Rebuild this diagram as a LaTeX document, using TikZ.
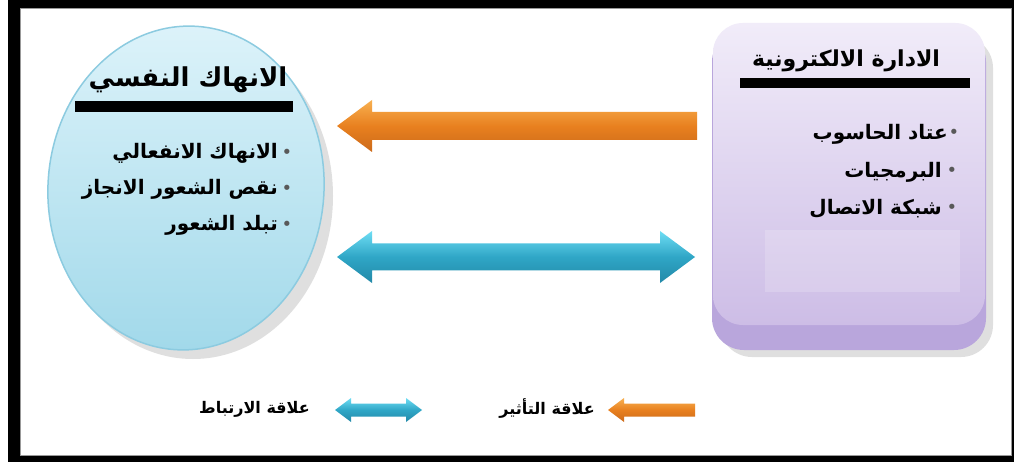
\documentclass[tikz,border=0pt]{standalone}
\usepackage{fontspec}
\newfontfamily\arabicfont[Script=Arabic]{DejaVu Sans}
\TeXXeTstate=1
\usetikzlibrary{shapes.geometric,calc}
\definecolor{exhtop}{HTML}{DDF3FA}
\definecolor{exhbot}{HTML}{A2D9EA}
\definecolor{exhrim}{HTML}{8CCBE0}
\definecolor{mgtop}{HTML}{F1ECF9}
\definecolor{mgbot}{HTML}{CDBDE6}
\definecolor{mgbase}{HTML}{B9A6DC}
\definecolor{ortop}{HTML}{F8B050}
\definecolor{ormid}{HTML}{E8801F}
\definecolor{orbot}{HTML}{CC6A1A}
\definecolor{bltop}{HTML}{6EDDF4}
\definecolor{blmid}{HTML}{2FA6C6}
\definecolor{blbot}{HTML}{2389A8}
\begin{document}
\begin{tikzpicture}[x=1pt,y=-1pt,
  ttl/.style={font=\arabicfont\bfseries\fontsize{24}{28}\selectfont, inner sep=0pt},
  itm/.style={font=\arabicfont\bfseries\fontsize{20}{24}\selectfont, inner sep=0pt, anchor=east},
  lgd/.style={font=\arabicfont\bfseries\fontsize{16}{19}\selectfont, inner sep=0pt, anchor=east},
  bul/.style={font=\arabicfont\fontsize{18}{20}\selectfont, inner sep=0pt, text=black!65},
  orshade/.style={top color=ortop, bottom color=orbot, middle color=ormid},
  blshade/.style={top color=bltop, bottom color=blbot, middle color=blmid}]
\useasboundingbox (0,0) rectangle (1014,462);
% frame
\fill[black] (8,0) rectangle (1014,462);
\fill[black!40] (20,8) rectangle (1012,456);
\fill[white] (21,9) rectangle (1011,455);

% left ellipse (psychological exhaustion)
\fill[black!35, opacity=0.35] (193,196) ellipse [x radius=140pt, y radius=163pt];
\node[ellipse, minimum width=276pt, minimum height=324pt, top color=exhtop,
      bottom color=exhbot, draw=exhrim, line width=1.5pt, rotate=-4] (exh) at (186,188) {};
\node[ttl, font=\arabicfont\bfseries\fontsize{26}{30}\selectfont] (exht) at (188,80) {\beginR الانهاك النفسي\endR};
\fill[black] (75,101) rectangle (293,112);
\node[itm] (e1) at (278,153) {\beginR الانهاك الانفعالي\endR};
\node[itm] (e2) at (278,189) {\beginR نقص الشعور الانجاز\endR};
\node[itm] (e3) at (278,225) {\beginR تبلد الشعور\endR};
\node[bul] (eb1) at (287,154) {•};
\node[bul] (eb2) at (287,190) {•};
\node[bul] (eb3) at (287,226) {•};

% right box (electronic management)
\fill[black!35, opacity=0.35] (720,36) [rounded corners=32pt] rectangle (993,357);
\node[rectangle, rounded corners=32pt, minimum width=274pt, minimum height=320pt,
      fill=mgbase] (mgb) at (849,190) {};
\node[rectangle, rounded corners=30pt, minimum width=272pt, minimum height=302pt,
      top color=mgtop, bottom color=mgbot] (mg) at (849,174) {};
\fill[white, opacity=0.18] (765,230) rectangle (960,292);
\node[ttl, font=\arabicfont\bfseries\fontsize{22}{26}\selectfont] (mgt) at (846,61) {\beginR الادارة الالكترونية\endR};
\fill[black] (740,78) rectangle (970,88);
\node[itm] (m1) at (948,134) {\beginR عتاد الحاسوب\endR};
\node[itm] (m2) at (942,172) {\beginR البرمجيات\endR};
\node[itm] (m3) at (942,209) {\beginR شبكة الاتصال\endR};
\node[bul] (mb1) at (954,134) {•};
\node[bul] (mb2) at (952,172) {•};
\node[bul] (mb3) at (952,209) {•};

% influence arrow (orange)
\coordinate (oT) at (697,126);
\coordinate (oH) at (337,126);
\shade[orshade] ($(oT)+(0,-14)$) -- ($(oH)+(35,-14)$) -- ($(oH)+(35,-26)$) -- (oH)
  -- ($(oH)+(35,26)$) -- ($(oH)+(35,14)$) -- ($(oT)+(0,14)$) -- cycle;

% correlation arrow (blue)
\coordinate (bL) at (337,257);
\coordinate (bR) at (695,257);
\shade[blshade] (bL) -- ($(bL)+(35,-26)$) -- ($(bL)+(35,-13.5)$) -- ($(bR)+(-35,-13.5)$)
  -- ($(bR)+(-35,-26)$) -- (bR) -- ($(bR)+(-35,26)$) -- ($(bR)+(-35,13.5)$)
  -- ($(bL)+(35,13.5)$) -- ($(bL)+(35,26)$) -- cycle;

% legend
\coordinate (lT) at (695,410);
\coordinate (lH) at (608,410);
\shade[orshade] ($(lT)+(0,-6.5)$) -- ($(lH)+(16,-6.5)$) -- ($(lH)+(16,-12)$) -- (lH)
  -- ($(lH)+(16,12)$) -- ($(lH)+(16,6.5)$) -- ($(lT)+(0,6.5)$) -- cycle;
\node[lgd] (lt1) at (595,409) {\beginR علاقة التأثير\endR};
\coordinate (lL) at (335,410);
\coordinate (lR) at (422,410);
\shade[blshade] (lL) -- ($(lL)+(16,-12)$) -- ($(lL)+(16,-6.5)$) -- ($(lR)+(-16,-6.5)$)
  -- ($(lR)+(-16,-12)$) -- (lR) -- ($(lR)+(-16,12)$) -- ($(lR)+(-16,6.5)$)
  -- ($(lL)+(16,6.5)$) -- ($(lL)+(16,12)$) -- cycle;
\node[lgd] (lt2) at (310,409) {\beginR علاقة الارتباط\endR};
\end{tikzpicture}
\end{document}
